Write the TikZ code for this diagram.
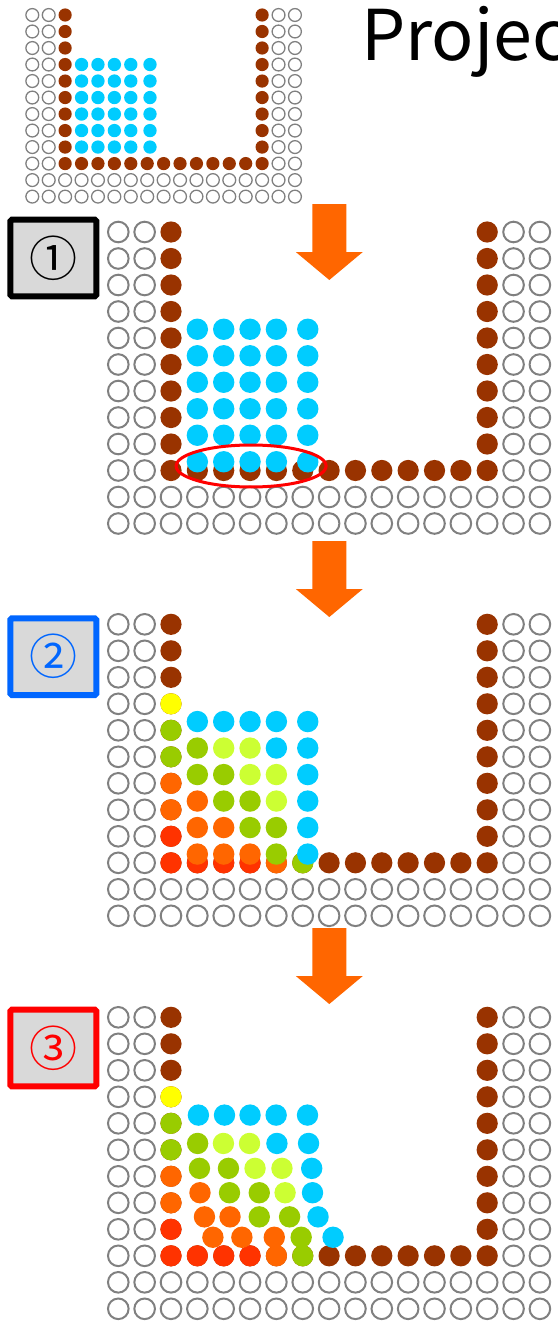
\documentclass[tikz,border=0pt]{standalone}
\usepackage{fontspec}
\usepackage{tikz}
\newfontfamily\titlefont{Noto Sans CJK JP}
\newfontfamily\circfont{Noto Sans CJK JP}
\definecolor{wallbrown}{RGB}{153,51,0}
\definecolor{fluidblue}{RGB}{0,204,255}
\definecolor{pyellow}{RGB}{255,255,0}
\definecolor{pgreen}{RGB}{153,204,0}
\definecolor{plime}{RGB}{204,255,51}
\definecolor{porange}{RGB}{255,102,0}
\definecolor{pred}{RGB}{255,51,0}
\definecolor{dropcol}{RGB}{255,102,0}
\definecolor{boxgray}{RGB}{217,217,217}
\definecolor{boxblue}{RGB}{0,102,255}

\begin{document}
\begin{tikzpicture}[x=1pt,y=-1pt,
  dummy/.style={draw=gray,line width=2pt},
  wall/.style={fill=wallbrown},
  ring/.style={draw=red,line width=3pt},
  stepbox/.style={draw=#1,text=#1,fill=boxgray,line width=6pt,rounded corners=1.5pt,
    minimum width=86pt,minimum height=76.6pt,inner sep=0pt,
    font=\circfont\fontsize{48}{48}\selectfont},
  drop/.pic={\fill[dropcol] (-17,0) -- (17,0) -- (17,48) -- (33.5,48) -- (0,76)
    -- (-33.5,48) -- (-17,48) -- cycle;},
  tank/.pic={
    \foreach \c in {0,1,15,16} \foreach \r in {0,...,9} \draw[dummy] (\c,\r) circle (10.3pt);
    \foreach \c in {0,...,16} \foreach \r in {10,11} \draw[dummy] (\c,\r) circle (10.3pt);
    \foreach \r in {0,...,9} \fill[wall] (2,\r) circle (10.6pt) (14,\r) circle (10.6pt);
    \foreach \c in {3,...,13} \fill[wall] (\c,9) circle (10.6pt);
  },
  wetwall/.pic={
    \foreach \r/\col in {3/pyellow,4/pgreen,5/pgreen,6/porange,7/porange,8/pred,9/pred}
      \fill[fill=\col] (2,\r) circle (10.6pt);
    \foreach \c/\col in {3/pred,4/pred,5/pred,6/porange,7/pgreen}
      \fill[fill=\col] (\c,9) circle (10.6pt);
  }]
\useasboundingbox (0,0) rectangle (557,1322);
\clip (0,0) rectangle (557,1322);
% title
\node[font=\titlefont\fontsize{70}{70}\selectfont,anchor=base west,inner sep=0pt] (title)
  at (361,61) {Projec};
% initial state
\begin{scope}[shift={(32.3,15)},scale=0.623,x=26.35pt,y=-26.5pt,
  dummy/.append style={line width=1.3pt}]
  \pic[transform shape] {tank};
  \foreach \r in {3,...,8} {
    \foreach \c in {3,...,6} \fill[fluidblue] (\c,\r) circle (10.7pt);
    \fill[fluidblue] (7.17,\r) circle (10.7pt);
  }
\end{scope}
% step 1: fluid moved into the wall
\pic at (329.3,204) {drop};
\node[stepbox=black] (one) at (53.3,258) {①};
\begin{scope}[shift={(118.3,232)},x=26.35pt,y=-26.5pt]
  \pic {tank};
  \foreach \k in {0,...,5} {
    \foreach \c in {3,...,6} \fill[fluidblue] (\c,{3.67+\k}) circle (10.7pt);
    \fill[fluidblue] (7.19,{3.67+\k}) circle (10.7pt);
  }
  \draw[ring] (5.04,8.83) ellipse [x radius=75pt,y radius=21pt];
\end{scope}
% step 2: pressure
\pic at (329.3,541) {drop};
\node[stepbox=boxblue] (two) at (53.3,656.7) {②};
\begin{scope}[shift={(118.3,624.3)},x=26.35pt,y=-26.5pt]
  \pic {tank};
  \pic {wetwall};
  \foreach \k/\ca/\cb/\cc/\cd in {0/fluidblue/fluidblue/fluidblue/fluidblue,
      1/pgreen/plime/plime/fluidblue, 2/pgreen/pgreen/plime/plime,
      3/porange/pgreen/pgreen/plime, 4/porange/porange/pgreen/pgreen,
      5/porange/porange/porange/pgreen} {
    \fill[fill=\ca] (3,{3.67+\k}) circle (10.7pt);
    \fill[fill=\cb] (4,{3.67+\k}) circle (10.7pt);
    \fill[fill=\cc] (5,{3.67+\k}) circle (10.7pt);
    \fill[fill=\cd] (6,{3.67+\k}) circle (10.7pt);
    \fill[fluidblue] (7.19,{3.67+\k}) circle (10.7pt);
  }
\end{scope}
% step 3: projected
\pic at (329.3,928) {drop};
\node[stepbox=red] (three) at (53.3,1048) {③};
\begin{scope}[shift={(118.3,1017.3)},x=26.35pt,y=-26.5pt]
  \pic {tank};
  \pic {wetwall};
  \foreach \x/\y/\col in {
      3.04/3.69/fluidblue, 4.03/3.69/fluidblue, 5.00/3.69/fluidblue, 5.99/3.69/fluidblue, 7.18/3.69/fluidblue,
      3.01/4.76/pgreen, 3.99/4.76/plime, 4.98/4.76/plime, 6.02/4.76/fluidblue, 7.22/4.76/fluidblue,
      3.08/5.70/pgreen, 4.18/5.70/pgreen, 5.19/5.70/plime, 6.21/5.70/plime, 7.34/5.70/fluidblue,
      3.10/6.62/porange, 4.22/6.62/pgreen, 5.35/6.62/pgreen, 6.33/6.62/plime, 7.37/6.62/fluidblue,
      3.27/7.53/porange, 4.24/7.53/porange, 5.35/7.53/pgreen, 6.50/7.53/pgreen, 7.58/7.53/fluidblue,
      3.59/8.30/porange, 4.69/8.30/porange, 5.92/8.30/porange, 6.94/8.30/pgreen, 8.15/8.30/fluidblue}
    \fill[fill=\col] (\x,\y) circle (10.7pt);
\end{scope}
\end{tikzpicture}
\end{document}
